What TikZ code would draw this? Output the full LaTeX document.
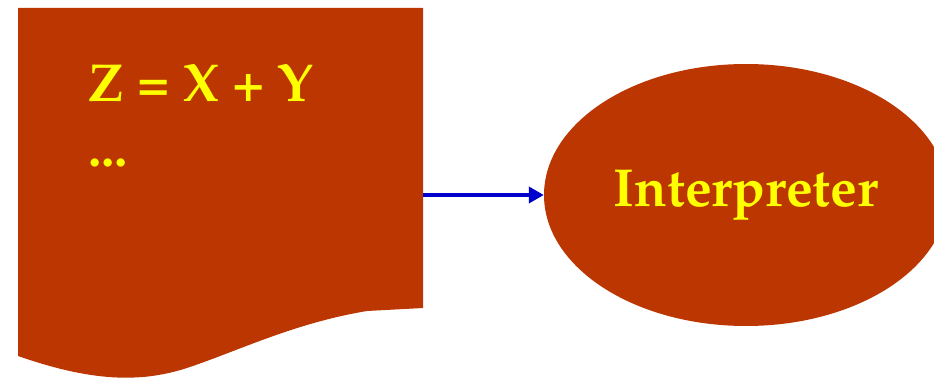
\documentclass[tikz,border=0pt]{standalone}
\definecolor{rustred}{RGB}{187,54,0}
\definecolor{codeyellow}{RGB}{255,255,0}
\definecolor{arrowblue}{RGB}{0,0,204}
\usepackage[T1]{fontenc}
\usepackage{mathpazo}
\usepackage{tikz}
\usetikzlibrary{shapes.geometric,arrows.meta,positioning}

\tikzset{
    codetext/.style={anchor=base west, inner sep=0pt, text=codeyellow, font=\fontsize{53.5}{60}\selectfont\bfseries},
    procbox/.style={ellipse, fill=rustred, inner sep=0pt, minimum width=404pt, minimum height=262pt,
        text=codeyellow, font=\fontsize{53.5}{60}\selectfont\bfseries},
    flowarrow/.style={draw=arrowblue, line width=4.5pt, -{Triangle[length=15pt,width=16pt]}}
}

\begin{document}
\begin{tikzpicture}[x=1pt,y=-1pt]
            \useasboundingbox (0,0) rectangle (934,379);
            \clip (0,0) rectangle (934,379);
            % source program page
            \fill[rustred] (18,8) -- (423,8) -- (423,308) -- (367,311)
                .. controls (295,323) and (240,350) .. (190,367)
                .. controls (140,384) and (90,381) .. (18,356) -- cycle;
            \node[codetext] (line1) at (88,102) {Z = X + Y};
            \node[codetext] (line2) at (88,167) {...};
            \coordinate (pageout) at (423,195);
            % interpreter
            \node[procbox] (interp) at (746,195) {Interpreter};
            \draw[flowarrow] (pageout) -- (interp.west);
        \end{tikzpicture}
\end{document}
